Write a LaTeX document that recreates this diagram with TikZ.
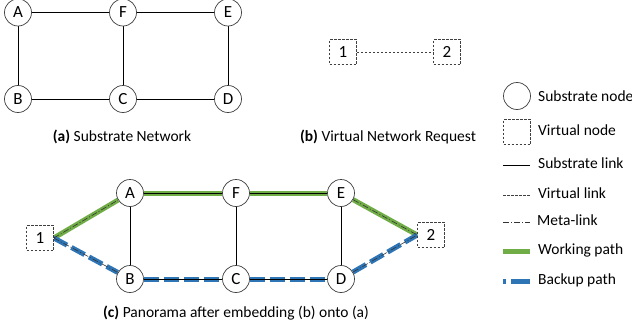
\documentclass[tikz,border=0pt]{standalone}
\usepackage{fontspec}
\setmainfont{Carlito}
\usetikzlibrary{backgrounds}
\definecolor{wgreen}{RGB}{112,173,71}
\definecolor{bblue}{RGB}{46,117,182}
\begin{document}
\begin{tikzpicture}[x=1pt,y=-1pt,
  snode/.style={circle,draw=black!75,line width=0.7pt,fill=white,minimum size=27pt,inner sep=0pt,font=\fontsize{17}{17}\selectfont},
  vnode/.style={draw=black!75,line width=0.6pt,dash pattern=on 2.5pt off 1.5pt,fill=white,minimum width=27pt,minimum height=25pt,inner sep=0pt,font=\fontsize{17}{17}\selectfont},
  slink/.style={draw=black,line width=0.6pt},
  vlink/.style={draw=black!75,line width=0.6pt,dash pattern=on 2.5pt off 1.5pt},
  mlink/.style={draw=black!80,line width=0.6pt,dash pattern=on 6pt off 2pt on 1pt off 2pt},
  wpath/.style={draw=wgreen,line width=5pt},
  bpath/.style={draw=bblue,line width=5pt,dash pattern=on 15pt off 5pt},
  captext/.style={font=\fontsize{15.5}{15.5}\selectfont},
  legtext/.style={anchor=west,font=\fontsize{15.5}{15.5}\selectfont,inner sep=0pt}]
\useasboundingbox (0,0) rectangle (632,332);
% (a) substrate network
\node[snode] (aA) at (18,12.5) {A};
\node[snode] (aF) at (123,12.5) {F};
\node[snode] (aE) at (228,12.5) {E};
\node[snode] (aB) at (18,99) {B};
\node[snode] (aC) at (123,99) {C};
\node[snode] (aD) at (228,99) {D};
\node[captext] (capa) at (122,137) {\textbf{(a)} Substrate Network};
% (b) virtual network request
\node[vnode] (b1) at (343,52) {1};
\node[vnode] (b2) at (447,52) {2};
\node[captext] (capb) at (388,137) {\textbf{(b)} Virtual Network Request};
% (c) panorama
\node[snode] (cA) at (130,193) {A};
\node[snode] (cF) at (236,193) {F};
\node[snode] (cE) at (341,193) {E};
\node[snode] (cB) at (130,279) {B};
\node[snode] (cC) at (236,279) {C};
\node[snode] (cD) at (341,279) {D};
\node[vnode] (c1) at (40,238) {1};
\node[vnode] (c2) at (431,235) {2};
\node[captext] (capc) at (236,313) {\textbf{(c)} Panorama after embedding (b) onto (a)};
% legend
\node[snode] (lgc) at (517,96) {};
\node[vnode] (lgv) at (517,132) {};
\coordinate (ls1) at (503,165); \coordinate (ls2) at (530,165);
\coordinate (lv1) at (503,195); \coordinate (lv2) at (530,195);
\coordinate (lm1) at (503,222); \coordinate (lm2) at (530,222);
\coordinate (lw1) at (503,251); \coordinate (lw2) at (530,251);
\coordinate (lb1) at (503,281); \coordinate (lb2) at (530,281);
\node[legtext] (t1) at (538,96) {Substrate node};
\node[legtext] (t2) at (538,130) {Virtual node};
\node[legtext] (t3) at (538,163) {Substrate link};
\node[legtext] (t4) at (538,193) {Virtual link};
\node[legtext] (t5) at (537,220) {Meta-link};
\node[legtext] (t6) at (538,250) {Working path};
\node[legtext] (t7) at (538,280) {Backup path};
\begin{scope}[on background layer]
  \fill[white] (0,0) rectangle (632,332);
  % (a)
  \draw[slink] (aA) -- (aF);
  \draw[slink] (aF) -- (aE);
  \draw[slink] (aB) -- (aC);
  \draw[slink] (aC) -- (aD);
  \draw[slink] (aA) -- (aB);
  \draw[slink] (aF) -- (aC);
  \draw[slink] (aE) -- (aD);
  % (b)
  \draw[vlink] (b1) -- (b2);
  % (c)
  \draw[slink] (cA) -- (cB);
  \draw[slink] (cF) -- (cC);
  \draw[slink] (cE) -- (cD);
  \draw[wpath] (c1.east) -- (cA);
  \draw[wpath] (cA) -- (cF);
  \draw[wpath] (cF) -- (cE);
  \draw[wpath] (cE) -- (c2.west);
  \draw[bpath] (c1.east) -- (cB);
  \draw[bpath] (cB) -- (cC);
  \draw[bpath] (cC) -- (cD);
  \draw[bpath] (cD) -- (c2.west);
  \draw[mlink] (c1.east) -- (cA);
  \draw[mlink] (cE) -- (c2.west);
  \draw[mlink] (c1.east) -- (cB);
  \draw[mlink] (cD) -- (c2.west);
  \draw[slink] (cA) -- (cF);
  \draw[slink] (cF) -- (cE);
  \draw[slink] (cB) -- (cC);
  \draw[slink] (cC) -- (cD);
\end{scope}
% legend lines
\draw[slink] (ls1) -- (ls2);
\draw[vlink] (lv1) -- (lv2);
\draw[mlink] (lm1) -- (lm2);
\draw[wpath] (lw1) -- (lw2);
\draw[draw=bblue,line width=5pt,dash pattern=on 3pt off 5pt on 19pt off 5pt] (lb1) -- (lb2);
\end{tikzpicture}
\end{document}
